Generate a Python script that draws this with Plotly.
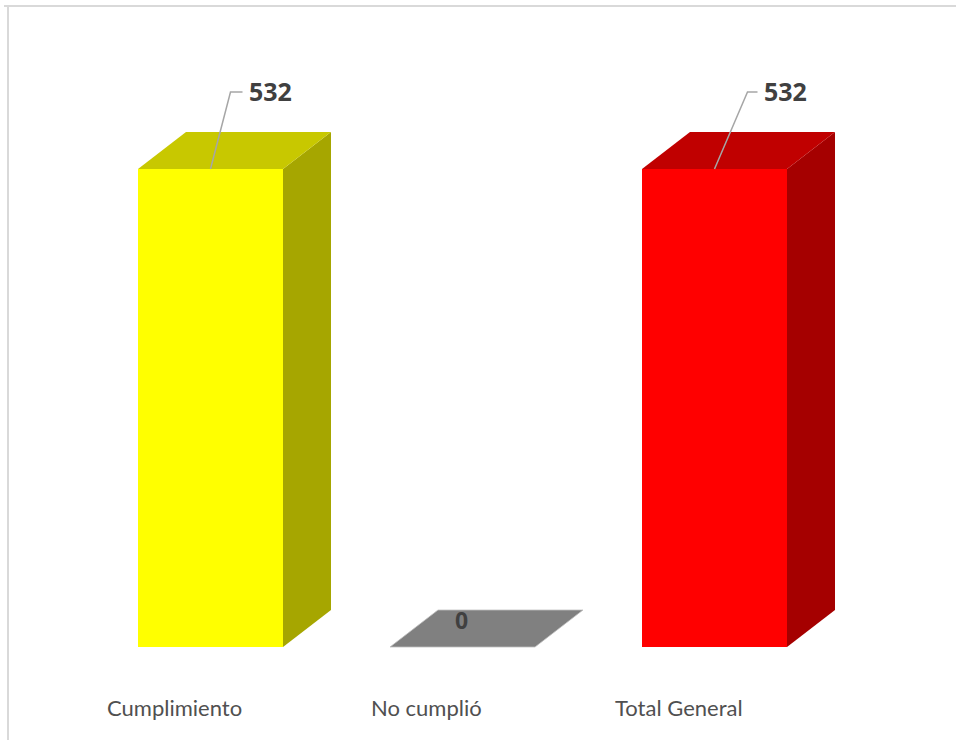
import plotly.graph_objects as go

categories = ["Cumplimiento", "No cumplió", "Total General"]
values = [532, 0, 532]
front_colors = ["#FFFF00", "#808080", "#FF0000"]
top_colors = ["#C8C800", "#808080", "#C00000"]
side_colors = ["#A6A600", "#6E6E6E", "#A50000"]

W, H = 956, 740
# pixel mapping
x0_px, x_step_px = 210.5, 252.0
y0_px, y_scale = 647.0, 478.0 / 532.0

def px_to_dx(p):
    return p / x_step_px

def px_to_dy(p):
    return p / y_scale

x_range = [-x0_px / x_step_px, (W - x0_px) / x_step_px]
y_range = [-(H - y0_px) / y_scale, y0_px / y_scale]

bar_w = px_to_dx(145)
depth_x = px_to_dx(48)
depth_y = px_to_dy(37)

fig = go.Figure()

xs = list(range(len(categories)))

# front faces
fig.add_trace(go.Bar(
    x=xs, y=values, width=bar_w, base=0,
    marker=dict(color=front_colors, line=dict(width=0)),
    hoverinfo="skip", showlegend=False,
))

for i, v in zip(xs, values):
    l, r = i - bar_w / 2, i + bar_w / 2
    # side face
    if v > 0:
        fig.add_trace(go.Scatter(
            x=[r, r + depth_x, r + depth_x, r, r],
            y=[0, depth_y, v + depth_y, v, 0],
            fill="toself", fillcolor=side_colors[i], mode="lines",
            line=dict(width=0, color=side_colors[i]),
            hoverinfo="skip", showlegend=False,
        ))
    # top face
    fig.add_trace(go.Scatter(
        x=[l, r, r + depth_x, l + depth_x, l],
        y=[v, v, v + depth_y, v + depth_y, v],
        fill="toself", fillcolor=top_colors[i], mode="lines",
        line=dict(width=0.8 if v == 0 else 0, color="#BFBFBF" if v == 0 else top_colors[i]),
        hoverinfo="skip", showlegend=False,
    ))

annotations = []
shapes = []
for i, v in zip(xs, values):
    if v > 0:
        lx = [i, i + px_to_dx(20 if i == 0 else 33), i + px_to_dx(32 if i == 0 else 43)]
        ly = [v, v + px_to_dy(77), v + px_to_dy(77)]
        fig.add_trace(go.Scatter(
            x=lx, y=ly, mode="lines",
            line=dict(color="#A6A6A6", width=1.5),
            hoverinfo="skip", showlegend=False,
        ))
        annotations.append(dict(
            x=lx[-1], y=ly[-1], xref="x", yref="y", text="<b>" + str(v) + "</b>",
            showarrow=False, xanchor="left", yanchor="middle", xshift=4, yshift=1,
            font=dict(family="Open Sans", size=25, color="#404040"),
        ))
    else:
        annotations.append(dict(
            x=i, y=v, xref="x", yref="y", text="<b>" + str(v) + "</b>",
            showarrow=False, xanchor="center", yanchor="middle",
            xshift=-1, yshift=27,
            font=dict(family="Open Sans", size=23, color="#404040"),
        ))

for i, c in zip(xs, categories):
    annotations.append(dict(
        x=i, y=0, xref="x", yref="y", text=c, showarrow=False,
        xanchor="center", yanchor="middle", xshift=-36, yshift=-60,
        font=dict(family="Lato", size=22, color="#505050"),
    ))

# chart border (top and left edges visible)
shapes.append(dict(type="line", xref="paper", yref="paper",
                   x0=4 / W, x1=1.0, y0=1 - 6 / H, y1=1 - 6 / H,
                   line=dict(color="#D9D9D9", width=2)))
shapes.append(dict(type="line", xref="paper", yref="paper",
                   x0=8 / W, x1=8 / W, y0=0, y1=1 - 6 / H,
                   line=dict(color="#D9D9D9", width=2)))

fig.update_layout(
    width=W, height=H,
    margin=dict(l=0, r=0, t=0, b=0),
    paper_bgcolor="white", plot_bgcolor="white",
    xaxis=dict(range=x_range, visible=False, fixedrange=True),
    yaxis=dict(range=y_range, visible=False, fixedrange=True),
    annotations=annotations, shapes=shapes,
    bargap=0,
)

fig.write_html("out.html")
